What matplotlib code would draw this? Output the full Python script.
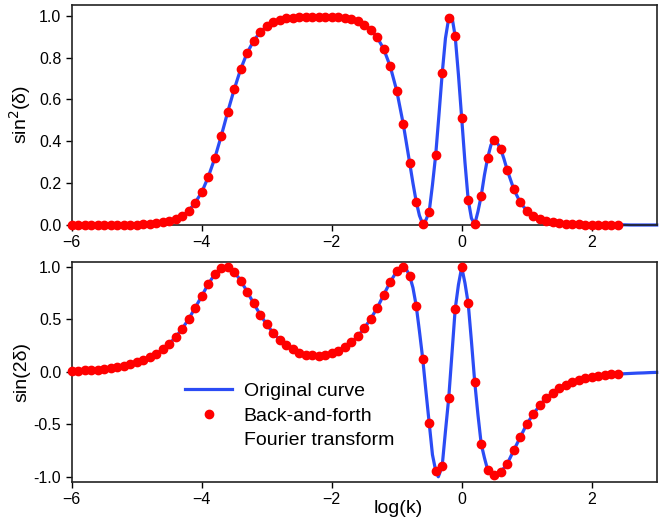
import numpy as np
import matplotlib
matplotlib.use('Agg')
import matplotlib.pyplot as plt
from matplotlib.lines import Line2D

plt.rcParams['font.family'] = ['Liberation Sans', 'DejaVu Sans']

# sampling of the back-and-forth transform: log(k) = -6.0, -5.9, ... 2.4
k_start = -6.0
k_step = 0.1

# sin^2(delta)
sin2_dots = [
    0.000, 0.000, 0.000, 0.000, 0.001, 0.001, 0.001, 0.001, 0.001, 0.002,   # -6.0 .. -5.1
    0.002, 0.003, 0.005, 0.008, 0.012, 0.018, 0.028, 0.043, 0.068, 0.107,   # -5.0 .. -4.1
    0.156, 0.229, 0.318, 0.425, 0.540, 0.648, 0.745, 0.823, 0.880, 0.922,   # -4.0 .. -3.1
    0.949, 0.968, 0.979, 0.987, 0.991, 0.993, 0.994, 0.995, 0.995, 0.995,   # -3.0 .. -2.1
    0.994, 0.992, 0.989, 0.982, 0.973, 0.957, 0.933, 0.896, 0.841, 0.758,   # -2.0 .. -1.1
    0.642, 0.484, 0.296, 0.112, 0.005, 0.064, 0.335, 0.724, 0.988, 0.901,   # -1.0 .. -0.1
    0.510, 0.120, 0.003, 0.139, 0.322, 0.405, 0.363, 0.263, 0.172, 0.108,   # 0.0 .. 0.9
    0.069, 0.044, 0.029, 0.019, 0.013, 0.009, 0.006, 0.004, 0.003, 0.002,   # 1.0 .. 1.9
    0.002, 0.001, 0.001, 0.001, 0.001,                                      # 2.0 .. 2.4
]

# sin(2 delta)
sin2d_dots = [
    0.006, 0.010, 0.013, 0.016, 0.020, 0.025, 0.033, 0.041, 0.053, 0.070,
    0.089, 0.108, 0.137, 0.168, 0.213, 0.267, 0.330, 0.410, 0.502, 0.610,
    0.720, 0.835, 0.927, 0.984, 0.997, 0.952, 0.868, 0.762, 0.651, 0.544,
    0.451, 0.369, 0.304, 0.251, 0.212, 0.182, 0.163, 0.156, 0.152, 0.159,
    0.175, 0.200, 0.235, 0.280, 0.337, 0.413, 0.505, 0.607, 0.733, 0.854,
    0.956, 0.997, 0.911, 0.629, 0.126, -0.489, -0.943, -0.896, -0.253, 0.598,
    0.995, 0.651, -0.095, -0.687, -0.936, -0.984, -0.956, -0.878, -0.749, -0.624,
    -0.500, -0.404, -0.321, -0.248, -0.203, -0.152, -0.127, -0.102, -0.079, -0.060,
    -0.048, -0.038, -0.032, -0.025, -0.022,
]

# extra samples of the original (continuous) curve, between the dots and beyond 2.4
top_extra_x = [-3.65, -0.75, -0.65, -0.55, -0.45, -0.35, -0.25, -0.17, -0.15, -0.05,
               0.05, 0.15, 0.25, 0.35, 0.45, 0.52, 0.55, 0.65,
               2.5, 2.6, 2.7, 2.8, 2.9, 3.0]
top_extra_y = [0.482, 0.200, 0.045, 0.024, 0.191, 0.526, 0.892, 0.998, 0.995, 0.717,
               0.300, 0.032, 0.064, 0.239, 0.382, 0.408, 0.390, 0.316,
               0.001, 0.0, 0.0, 0.0, 0.0, 0.0]
bot_extra_x = [-3.65, -0.95, -0.85, -0.75, -0.65, -0.55, -0.45, -0.36, -0.35, -0.25,
               -0.15, -0.05, 0.05, 0.15, 0.25, 0.35, 0.45, 0.52, 0.55,
               2.5, 2.6, 2.7, 2.8, 2.9, 3.0]
bot_extra_y = [1.0, 0.985, 0.975, 0.800, 0.385, -0.187, -0.790, -1.0, -0.985, -0.567,
               0.170, 0.829, 0.845, 0.289, -0.410, -0.820, -0.965, -0.997, -0.990,
               -0.019, -0.016, -0.013, -0.011, -0.008, -0.006]

log_k = np.round(k_start + k_step * np.arange(len(sin2_dots)), 1)


def curve(xs, ys):
    o = np.argsort(xs)
    return np.asarray(xs)[o], np.asarray(ys)[o]


top_lx, top_ly = curve(np.concatenate([log_k, top_extra_x]),
                       np.concatenate([sin2_dots, top_extra_y]))
bot_lx, bot_ly = curve(np.concatenate([log_k, bot_extra_x]),
                       np.concatenate([sin2d_dots, bot_extra_y]))

BLUE = '#2b4cf5'
RED = '#ff0000'

fig = plt.figure(figsize=(6.65, 5.24), dpi=100)
W, H = 665.0, 524.0
ax1 = fig.add_axes([71.7 / W, 1 - 225 / H, 585 / W, 220 / H])
ax2 = fig.add_axes([71.7 / W, 1 - 482 / H, 585 / W, 220 / H])

for ax, lx, ly, dots in [(ax1, top_lx, top_ly, sin2_dots), (ax2, bot_lx, bot_ly, sin2d_dots)]:
    ax.plot(lx, ly, color=BLUE, lw=2.3, zorder=2, clip_on=False, solid_joinstyle='round')
    ax.plot(log_k, dots, 'o', color=RED, ms=6, mec=RED, zorder=3, clip_on=False)
    ax.set_xlim(-6, 3)
    ax.set_xticks([-6, -4, -2, 0, 2])
    ax.tick_params(direction='out', length=4, width=1, labelsize=11.5, top=False, right=False)
    for s in ax.spines.values():
        s.set_linewidth(1.2)
        s.set_color('#222222')

ax1.set_ylim(0, 1.051)
ax1.set_yticks([0.0, 0.2, 0.4, 0.6, 0.8, 1.0])
ax1.set_yticklabels(['0.0', '0.2', '0.4', '0.6', '0.8', '1.0'])
ax1.set_ylabel('sin$^2$(δ)', fontsize=14, labelpad=4)

ax2.set_ylim(-1.05, 1.045)
ax2.set_yticks([-1.0, -0.5, 0.0, 0.5, 1.0])
ax2.set_yticklabels(['-1.0', '-0.5', '0.0', '0.5', '1.0'])
ax2.set_ylabel('sin(2δ)', fontsize=14, labelpad=2)
ax2.set_xlabel('log(k)', fontsize=14, labelpad=0)
ax2.xaxis.set_label_coords(0.558, -0.083)

handles = [Line2D([], [], color=BLUE, lw=2.3),
           Line2D([], [], ls='none', marker='o', color=RED, ms=6),
           Line2D([], [], ls='none')]
ax2.legend(handles, ['Original curve', 'Back-and-forth', 'Fourier transform'],
           loc='upper left', bbox_to_anchor=(0.194, 0.452), frameon=False,
           fontsize=14, handlelength=2.4, handletextpad=0.6, labelspacing=0.35,
           borderpad=0, borderaxespad=0)

fig.savefig('out.png', dpi=100)
